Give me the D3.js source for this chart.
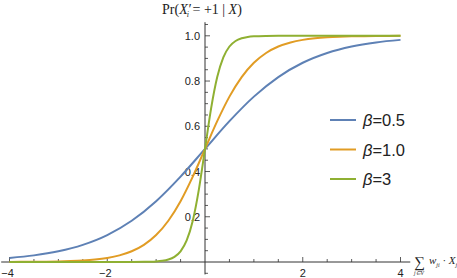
<!DOCTYPE html>
<html>
<head>
<meta charset="utf-8">
<script src="https://cdn.jsdelivr.net/npm/d3@7"></script>
<style>
  body { margin: 0; background: #fff; }
  svg { display: block; }
  .tick-label { font-family: "Liberation Sans", Arial, sans-serif; font-size: 11px; fill: #222; }
  .math { font-family: "Liberation Serif", "Times New Roman", serif; fill: #222; }
</style>
</head>
<body>
<svg id="chart" width="457" height="278"></svg>
<script>
// series data
const seriesNames = ["β=0.5", "β=1.0", "β=3"];
const seriesColors = ["#5e81b5", "#e19c24", "#8fb032"];

const blueX = [-4, -3.5, -3, -2.5, -2, -1.5, -1, -0.5, 0, 0.5, 1, 1.5, 2, 2.5, 3, 3.5, 4];
const blueY = [0.018, 0.0293, 0.0474, 0.0759, 0.1192, 0.1824, 0.2689, 0.3775, 0.5,
               0.6225, 0.7311, 0.8176, 0.8808, 0.9241, 0.9526, 0.9707, 0.982];

const orangeX = [-4, -3.75, -3.5, -3.25, -3, -2.75, -2.5, -2.25, -2, -1.75, -1.5, -1.25, -1, -0.75, -0.5, -0.25, 0,
                 0.25, 0.5, 0.75, 1, 1.25, 1.5, 1.75, 2, 2.25, 2.5, 2.75, 3, 3.25, 3.5, 3.75, 4];
const orangeY = [0.0003, 0.0006, 0.0009, 0.0015, 0.0025, 0.0041, 0.0067, 0.011, 0.018, 0.0293, 0.0474, 0.0759,
                 0.1192, 0.1824, 0.2689, 0.3775, 0.5, 0.6225, 0.7311, 0.8176, 0.8808, 0.9241, 0.9526, 0.9707,
                 0.982, 0.989, 0.9933, 0.9959, 0.9975, 0.9985, 0.9991, 0.9994, 0.9997];

const greenX = [-4, -3, -2, -1.5, -1.25, -1, -0.875, -0.75, -0.625, -0.5, -0.375, -0.25, -0.125, 0,
                0.125, 0.25, 0.375, 0.5, 0.625, 0.75, 0.875, 1, 1.25, 1.5, 2, 3, 4];
const greenY = [0, 0, 0.00001, 0.0001, 0.0006, 0.0025, 0.0052, 0.011, 0.023, 0.0474, 0.0953, 0.1824, 0.3208, 0.5,
                0.6792, 0.8176, 0.9047, 0.9526, 0.977, 0.989, 0.9948, 0.9975, 0.9994, 0.9999, 1, 1, 1];

const xMajor = [-4, -2, 2, 4];
const yMajor = [0.2, 0.4, 0.6, 0.8, 1.0];

const svg = d3.select("#chart");

const x = d3.scaleLinear().domain([-4, 4]).range([9.5, 400.5]);
const y = d3.scaleLinear().domain([0, 1]).range([262, 35.8]);

const x0 = y(0), y0 = x(0);

// axes lines
svg.append("line")
  .attr("x1", x(-4.17)).attr("x2", x(4.2))
  .attr("y1", x0).attr("y2", x0)
  .attr("stroke", "#333").attr("stroke-width", 1);
svg.append("line")
  .attr("x1", y0).attr("x2", y0)
  .attr("y1", y(-0.055)).attr("y2", y(1.06))
  .attr("stroke", "#333").attr("stroke-width", 1);

// x ticks (pointing up)
const xMinor = d3.range(-4, 4.01, 0.5).filter(v => Math.abs(v) > 1e-6);
svg.selectAll(".xtick")
  .data(xMinor)
  .enter().append("line")
  .attr("x1", d => x(d)).attr("x2", d => x(d))
  .attr("y1", x0)
  .attr("y2", d => x0 - (xMajor.includes(d) ? 5 : 3))
  .attr("stroke", "#333").attr("stroke-width", 0.8);

svg.selectAll(".xlab")
  .data(xMajor)
  .enter().append("text")
  .attr("class", "tick-label")
  .attr("x", d => x(d) - (d < 0 ? 2 : 0))
  .attr("y", 277)
  .attr("text-anchor", "middle")
  .text(d => d < 0 ? "\u2212" + Math.abs(d) : d);

// y ticks (pointing right)
const yMinor = d3.range(-0.05, 1.051, 0.05).filter(v => Math.abs(v) > 1e-6);
svg.selectAll(".ytick")
  .data(yMinor)
  .enter().append("line")
  .attr("x1", y0)
  .attr("x2", d => y0 + (yMajor.some(m => Math.abs(m - d) < 1e-6) ? 5 : 3))
  .attr("y1", d => y(d)).attr("y2", d => y(d))
  .attr("stroke", "#333").attr("stroke-width", 0.8);

svg.selectAll(".ylab")
  .data(yMajor)
  .enter().append("text")
  .attr("class", "tick-label")
  .attr("x", y0 - 5)
  .attr("y", d => y(d) + 4)
  .attr("text-anchor", "end")
  .text(d => d.toFixed(1));

// curves
const line = d3.line()
  .x(d => x(d[0]))
  .y(d => y(d[1]))
  .curve(d3.curveMonotoneX);

const series = [
  d3.zip(blueX, blueY),
  d3.zip(orangeX, orangeY),
  d3.zip(greenX, greenY)
];

svg.selectAll(".curve")
  .data(series)
  .enter().append("path")
  .attr("d", line)
  .attr("fill", "none")
  .attr("stroke", (d, i) => seriesColors[i])
  .attr("stroke-width", 2);

// legend
const legend = svg.append("g");
seriesNames.forEach((name, i) => {
  const ly = 120 + i * 29.5;
  legend.append("line")
    .attr("x1", 330).attr("x2", 356)
    .attr("y1", ly).attr("y2", ly)
    .attr("stroke", seriesColors[i]).attr("stroke-width", 2);
  const t = legend.append("text")
    .attr("x", 363).attr("y", ly + 6)
    .attr("font-family", "Liberation Sans, Arial, sans-serif")
    .attr("font-size", 16.5)
    .attr("fill", "#222");
  t.append("tspan").attr("font-style", "italic").text("β");
  t.append("tspan").text(name.slice(1));
});

// y axis label
const yl = svg.append("text").attr("class", "math")
  .attr("x", 162).attr("y", 14).attr("font-size", 14);
yl.append("tspan").text("Pr(");
yl.append("tspan").attr("font-style", "italic").text("X\u2032");
yl.append("tspan").attr("font-size", 8).attr("font-style", "italic").attr("dx", -4).attr("dy", 3).text("i");
yl.append("tspan").attr("dy", -3).text(" = +1 | ");
yl.append("tspan").attr("font-style", "italic").text("X");
yl.append("tspan").text(")");

// x axis label
const xl = svg.append("g").attr("class", "math");
xl.append("text").attr("x", 414).attr("y", 267).attr("font-size", 15).text("\u2211");
xl.append("text").attr("x", 414).attr("y", 275).attr("font-size", 5.5).attr("font-style", "italic").text("j\u2208V");
const xt = xl.append("text").attr("x", 429).attr("y", 264).attr("font-size", 11);
xt.append("tspan").attr("font-style", "italic").text("w");
xt.append("tspan").attr("font-size", 6).attr("font-style", "italic").attr("dy", 3).text("ji");
xt.append("tspan").attr("dy", -3).text(" \u00b7 ");
xt.append("tspan").attr("font-style", "italic").text("X");
xt.append("tspan").attr("font-size", 6).attr("font-style", "italic").attr("dy", 3).text("j");
</script>
</body>
</html>
